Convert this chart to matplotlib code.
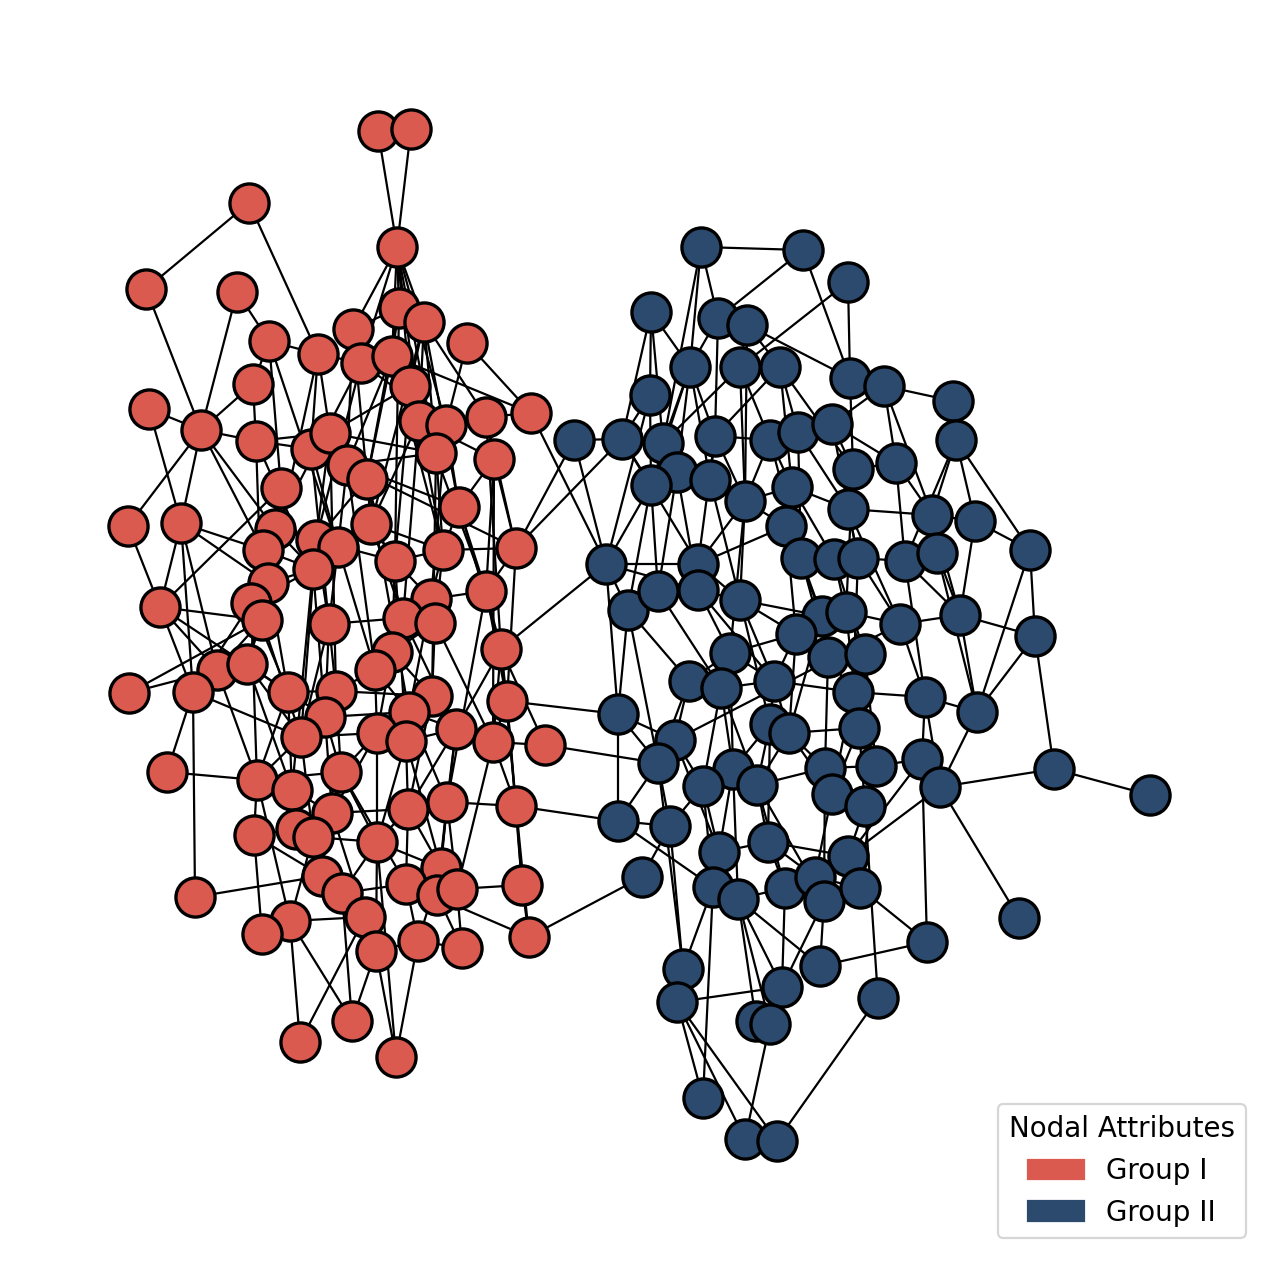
import numpy as np
import matplotlib
matplotlib.use("Agg")
import matplotlib.pyplot as plt
from matplotlib.collections import LineCollection
from matplotlib.patches import Patch

# node positions (pixel-like layout units, y downward)
red_x = [378, 411, 249, 397, 146, 237, 399, 424, 269, 318, 353, 361, 392, 467, 253, 410, 149, 201, 256, 419,
         446, 486, 531, 311, 330, 436, 347, 367, 494, 281, 459, 128, 181, 275, 316, 338, 371, 263, 313, 395,
         443, 516, 268, 486, 431, 160, 251, 262, 329, 403, 435, 392, 501, 217, 247, 375, 129, 193, 288, 336,
         432, 507, 325, 409, 301, 377, 406, 456, 493, 545, 167, 341, 257, 292, 332, 408, 447, 516, 254, 296,
         313, 377, 441, 322, 195, 342, 406, 437, 457, 522, 365, 290, 262, 376, 418, 462, 529, 352, 300, 396]
red_y = [131, 129, 203, 247, 289, 292, 308, 322, 341, 354, 329, 363, 356, 343, 384, 386, 409, 430, 441, 421,
         425, 417, 413, 449, 433, 453, 465, 479, 459, 488, 507, 526, 523, 529, 540, 547, 524, 550, 569, 561,
         550, 548, 583, 591, 599, 607, 603, 620, 624, 618, 623, 652, 649, 670, 664, 670, 693, 692, 692, 691,
         696, 701, 717, 712, 737, 733, 741, 729, 742, 745, 772, 772, 780, 790, 813, 809, 802, 806, 835, 829,
         837, 842, 868, 876, 897, 893, 884, 895, 889, 885, 917, 921, 934, 951, 941, 948, 937, 1021, 1042, 1057]

blue_x = [701, 803, 848, 651, 718, 747, 690, 740, 780, 850, 884, 953, 650, 574, 622, 663, 715, 770, 798, 832,
          853, 896, 956, 677, 710, 651, 745, 792, 848, 932, 975, 1030, 606, 698, 786, 801, 834, 858, 905, 937,
          628, 658, 698, 740, 822, 846, 900, 960, 1035, 796, 730, 828, 865, 689, 721, 774, 853, 925, 977, 618,
          770, 789, 859, 675, 658, 733, 757, 703, 825, 876, 922, 940, 832, 865, 1054, 1150, 618, 670, 719, 768,
          848, 642, 713, 738, 785, 815, 824, 860, 1019, 927, 683, 782, 820, 677, 878, 756, 770, 703, 745, 777]
blue_y = [247, 250, 282, 312, 318, 325, 367, 367, 367, 378, 386, 401, 395, 440, 439, 443, 436, 440, 432, 424,
          469, 463, 440, 472, 480, 485, 501, 487, 509, 515, 521, 550, 564, 564, 526, 558, 559, 558, 561, 553,
          610, 591, 590, 600, 616, 612, 624, 615, 636, 634, 653, 657, 654, 681, 688, 681, 692, 697, 712, 714,
          724, 733, 728, 740, 763, 769, 785, 786, 768, 766, 759, 787, 794, 806, 769, 795, 821, 826, 852, 842,
          856, 877, 887, 899, 888, 877, 901, 888, 918, 942, 969, 987, 966, 1002, 998, 1021, 1024, 1098, 1139, 1141]

red_edges = [
    (0, 3), (1, 3), (2, 4), (2, 9), (3, 6), (3, 7), (3, 10), (3, 15), (3, 19), (3, 25), (3, 20),
    (3, 12), (3, 11),
    (4, 17), (5, 17), (5, 8), (6, 10), (6, 12), (6, 27), (6, 39), (7, 15), (7, 21), (7, 30), (7, 36),
    (7, 19), (7, 25),
    (8, 9), (8, 14), (8, 29), (8, 35), (9, 11), (9, 24), (9, 23), (9, 42), (10, 11), (10, 26), (10, 27),
    (11, 12), (11, 20), (11, 33), (11, 34), (12, 15), (12, 22), (12, 26), (12, 40), (12, 27), (13, 20), (13, 22),
    (14, 17), (14, 18), (15, 19), (15, 24), (15, 43), (15, 39), (16, 17), (16, 32), (17, 18), (17, 31), (17, 32),
    (17, 33), (17, 37), (18, 23), (18, 24), (18, 38), (18, 47), (19, 20), (19, 28), (19, 36), (19, 49),
    (19, 40), (20, 21), (20, 25), (20, 44), (20, 30), (21, 22), (21, 28), (21, 52), (21, 41),
    (23, 24), (23, 35), (23, 48), (23, 30), (24, 26), (24, 25), (24, 59), (24, 34), (25, 26), (25, 40),
    (25, 60), (26, 27), (26, 41), (26, 55), (26, 35), (27, 36), (27, 34), (27, 63), (27, 49),
    (28, 30), (28, 41), (28, 68), (28, 43), (29, 33), (29, 37), (29, 45), (30, 40), (30, 52), (30, 43),
    (31, 45), (32, 45), (32, 37), (32, 42), (32, 53), (33, 34), (33, 38), (33, 46), (33, 42),
    (34, 35), (34, 39), (34, 64), (34, 48), (35, 36), (35, 48), (35, 55), (36, 39), (36, 49), (36, 40),
    (37, 38), (37, 47), (37, 58), (38, 42), (38, 62), (38, 73), (38, 46), (39, 40), (39, 51), (39, 66),
    (39, 44), (40, 41), (40, 50), (40, 44), (41, 43), (41, 61), (42, 46), (42, 54), (42, 47),
    (43, 44), (43, 52), (43, 61), (43, 76), (44, 50), (44, 63), (44, 49), (45, 47), (45, 53), (45, 58),
    (46, 47), (46, 57), (46, 72), (46, 58), (47, 53), (47, 54), (47, 64), (48, 49), (48, 59), (48, 62),
    (48, 64), (49, 50), (49, 55), (49, 67), (50, 51), (50, 60), (50, 68), (51, 55), (51, 65), (51, 60),
    (52, 61), (52, 67), (52, 68), (52, 77), (53, 54), (53, 56), (53, 72), (54, 58), (54, 64), (54, 73),
    (55, 59), (55, 65), (55, 63), (56, 47), (57, 32), (57, 45), (57, 84), (57, 70), (57, 64), (58, 59),
    (58, 62), (58, 73), (58, 72), (59, 60), (59, 62), (59, 71), (59, 64), (60, 63), (60, 67), (60, 75),
    (60, 66), (61, 68), (61, 77), (61, 89), (62, 63), (62, 64), (62, 74), (62, 71), (63, 65), (63, 66),
    (63, 76), (63, 67), (64, 65), (64, 72), (64, 80), (65, 66), (65, 71), (65, 81), (65, 74),
    (66, 67), (66, 75), (66, 82), (66, 81), (67, 68), (67, 76), (67, 87), (67, 75), (68, 69), (68, 77),
    (68, 88), (69, 52), (70, 72), (71, 72), (71, 74), (71, 81), (71, 86), (71, 80), (72, 73), (72, 78),
    (72, 91), (73, 74), (73, 79), (73, 85), (73, 80), (74, 75), (74, 80), (74, 90), (75, 76), (75, 81),
    (75, 86), (75, 82), (76, 77), (76, 82), (76, 88), (76, 87), (77, 89), (77, 96), (78, 79), (78, 83),
    (78, 92), (79, 80), (79, 85), (80, 81), (80, 83), (80, 91), (81, 82), (81, 85), (81, 93),
    (82, 86), (82, 87), (82, 94), (83, 84), (83, 85), (83, 90), (85, 86), (85, 90), (85, 97),
    (86, 87), (86, 94), (86, 96), (87, 88), (87, 95), (88, 89), (88, 95), (89, 96), (90, 91), (90, 93),
    (98, 91), (98, 90), (97, 91), (97, 93), (99, 93), (99, 81), (99, 94), (91, 92), (93, 94), (94, 95),
]

blue_edges = [
    (0, 1), (0, 4), (0, 6), (0, 15), (1, 4), (1, 9), (2, 9), (2, 7), (3, 6), (3, 12), (3, 14), (3, 15),
    (4, 6), (4, 16), (5, 9), (5, 26), (5, 7), (5, 8), (6, 16), (6, 23), (6, 24), (6, 25), (6, 15),
    (7, 26), (7, 15), (7, 17), (8, 18), (8, 16), (8, 27), (8, 20), (9, 10), (9, 20), (10, 11), (10, 19),
    (10, 21), (10, 29), (11, 22), (12, 14), (12, 25), (12, 32), (13, 14), (13, 32), (14, 15), (14, 33),
    (14, 25), (15, 23), (15, 24), (16, 24), (16, 17), (16, 33), (16, 26), (17, 18), (17, 27), (17, 26),
    (17, 35), (18, 19), (18, 28), (18, 35), (19, 20), (19, 21), (19, 37), (20, 28), (20, 21), (20, 45),
    (21, 29), (21, 38), (22, 29), (22, 30), (22, 31), (22, 38), (23, 24), (23, 25), (23, 42), (23, 41),
    (24, 26), (24, 34), (24, 43), (25, 32), (25, 41), (25, 40), (26, 27), (26, 33), (26, 43), (26, 50),
    (27, 28), (27, 34), (27, 36), (27, 35), (28, 29), (28, 37), (28, 46), (29, 30), (29, 39), (29, 47),
    (30, 31), (30, 47), (31, 48), (31, 58), (32, 33), (32, 40), (32, 42), (32, 59), (33, 34), (33, 42),
    (33, 43), (34, 35), (34, 49), (34, 44), (35, 36), (35, 44), (35, 51), (36, 37), (36, 45), (36, 52),
    (37, 38), (37, 46), (37, 56), (38, 39), (38, 47), (38, 57), (39, 47), (39, 58), (40, 41), (40, 53),
    (40, 64), (40, 59), (41, 42), (41, 54), (42, 43), (42, 50), (42, 55), (43, 44), (43, 49), (43, 60),
    (43, 55), (44, 45), (44, 51), (44, 61), (45, 46), (45, 52), (45, 62), (46, 47), (46, 57), (46, 63),
    (47, 48), (47, 58), (48, 58), (48, 74), (49, 50), (49, 51), (49, 55), (49, 61), (50, 53), (50, 54),
    (50, 65), (50, 55), (51, 52), (51, 56), (51, 68), (52, 56), (52, 62), (52, 69), (53, 54), (53, 63),
    (53, 64), (54, 55), (54, 66), (54, 67), (54, 65), (55, 56), (55, 60), (55, 61), (56, 57), (56, 62),
    (56, 72), (57, 58), (57, 70), (57, 71), (58, 71), (59, 63), (59, 76), (59, 64), (60, 61), (60, 65),
    (60, 79), (60, 66), (61, 62), (61, 66), (61, 68), (61, 72), (62, 69), (62, 73), (62, 72), (63, 64),
    (63, 67), (63, 78), (64, 76), (64, 77), (65, 66), (65, 67), (65, 78), (65, 83), (66, 68), (66, 79),
    (66, 84), (66, 86), (67, 77), (67, 82), (67, 78), (68, 69), (68, 72), (68, 86), (69, 70), (69, 73),
    (69, 87), (70, 71), (70, 80), (70, 89), (71, 74), (71, 80), (71, 88), (72, 73), (72, 85), (73, 80),
    (73, 94), (74, 75), (76, 77), (76, 82), (77, 81), (77, 90), (78, 79), (78, 83), (78, 82), (79, 80),
    (79, 84), (79, 85), (80, 87), (82, 83), (82, 90), (82, 97), (83, 84), (83, 91), (83, 92), (83, 95),
    (83, 96), (84, 85), (84, 91), (85, 86), (85, 87), (86, 91), (86, 92), (87, 89), (89, 92), (90, 64),
    (91, 93), (91, 95), (93, 97), (93, 98), (93, 99), (94, 99), (95, 96), (96, 98),
]

# (red index, blue index)
cross_edges = [(22, 32), (41, 13), (41, 14), (52, 32), (61, 59), (69, 64), (77, 76), (96, 81)]

red_color = "#db5a4f"
blue_color = "#2c4a6e"

rx, ry = np.array(red_x), np.array(red_y)
bx, by = np.array(blue_x), np.array(blue_y)

segs = [[(rx[a], ry[a]), (rx[b], ry[b])] for a, b in red_edges]
segs += [[(bx[a], by[a]), (bx[b], by[b])] for a, b in blue_edges]
segs += [[(rx[a], ry[a]), (bx[b], by[b])] for a, b in cross_edges]

fig = plt.figure(figsize=(8, 7.95), dpi=160)
ax = fig.add_axes([0, 0, 1, 1])
ax.add_collection(LineCollection(segs, colors="black", linewidths=1.0, zorder=1))
ax.scatter(rx, ry, s=310, c=red_color, edgecolors="black", linewidths=1.5, zorder=2)
ax.scatter(bx, by, s=310, c=blue_color, edgecolors="black", linewidths=1.5, zorder=2)
ax.set_xlim(0, 1280)
ax.set_ylim(1272, 0)
ax.axis("off")

handles = [Patch(color=red_color, label="Group I"), Patch(color=blue_color, label="Group II")]
fig.legend(handles=handles, title="Nodal Attributes", loc="lower right",
           bbox_to_anchor=(1246 / 1280, 34 / 1272), borderaxespad=0, fontsize=12.5, title_fontsize=12.5)

fig.savefig("out.png", dpi=160)
